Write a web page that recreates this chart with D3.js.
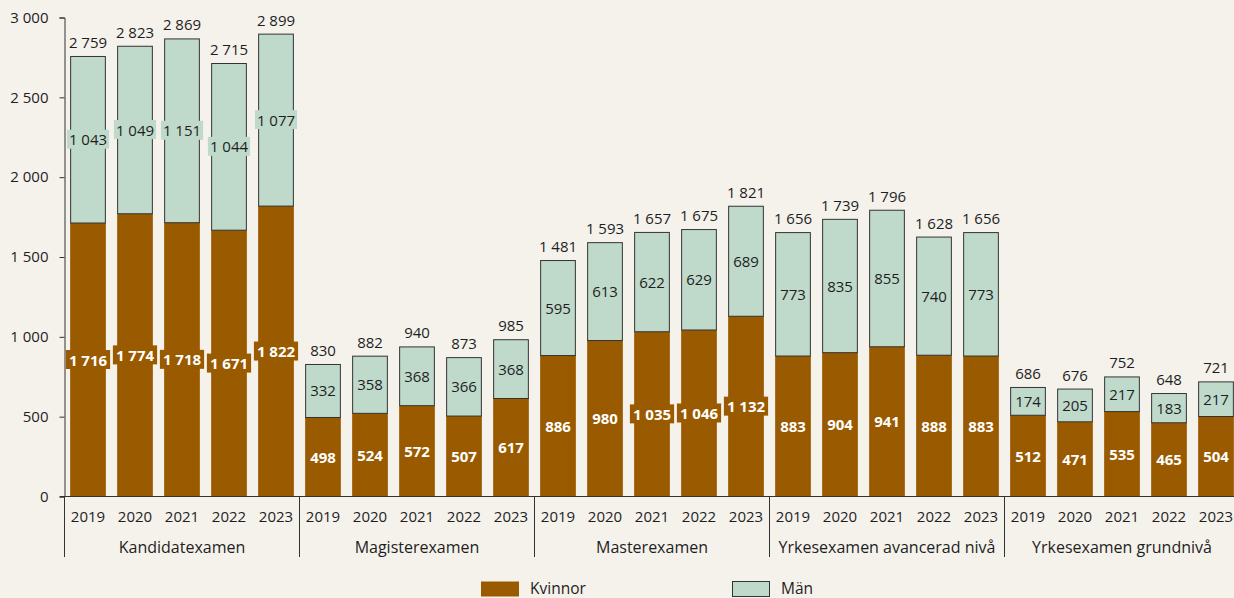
<!DOCTYPE html>
<html><head><meta charset="utf-8">
<script src="https://cdn.jsdelivr.net/npm/d3@7"></script>
<style>
html,body{margin:0;padding:0;background:#f5f2ec;}
svg{display:block;font-family:"Open Sans",sans-serif;}
</style></head>
<body><svg id="c" width="1234" height="598"></svg>
<script>
const categories = ["Kandidatexamen","Magisterexamen","Masterexamen","Yrkesexamen avancerad nivå","Yrkesexamen grundnivå"];
const years = ["2019","2020","2021","2022","2023"];
const kvinnor = [
  [1716,1774,1718,1671,1822],
  [498,524,572,507,617],
  [886,980,1035,1046,1132],
  [883,904,941,888,883],
  [512,471,535,465,504]
];
const man = [
  [1043,1049,1151,1044,1077],
  [332,358,368,366,368],
  [595,613,622,629,689],
  [773,835,855,740,773],
  [174,205,217,183,217]
];
const yTicks = [0,500,1000,1500,2000,2500,3000];
const seriesNames = ["Kvinnor","Män"];

const COL_K = "#995a00", COL_M = "#bfdacb", STROKE = "#333", TXT = "#1e1e1e";
const svg = d3.select("#c");
const locale = d3.formatLocale({decimal:",", thousands:" ", grouping:[3], currency:["","kr"]});
const fmt = locale.format(",d");

const x0 = 64.5, plotRight = 1239.5;
const y = d3.scaleLinear().domain([0,3000]).range([496.5,17.5]);
const keys = [];
categories.forEach((c,ci)=>years.forEach((yr,yi)=>keys.push(ci+"|"+yi)));
const x = d3.scaleBand().domain(keys).range([x0,plotRight]).paddingInner(0.24).paddingOuter(0.12);
const catX = d3.scaleBand().domain(categories).range([x0,plotRight]);

// y axis
const yAxis = svg.append("g").attr("transform",`translate(${x0},0)`)
  .call(d3.axisLeft(y).tickValues(yTicks).tickSize(5).tickPadding(11).tickFormat(fmt));
yAxis.select(".domain").attr("stroke",STROKE);
yAxis.selectAll(".tick line").attr("stroke",STROKE);
yAxis.selectAll("text").attr("fill",TXT).style("font-size","15px").style("font-family","Open Sans");

const data = [];
categories.forEach((c,ci)=>years.forEach((yr,yi)=>{
  data.push({key:ci+"|"+yi, ci, yi, k:kvinnor[ci][yi], m:man[ci][yi]});
}));

const g = svg.append("g");
g.selectAll("rect.k").data(data).join("rect").attr("class","k")
  .attr("x",d=>x(d.key)).attr("width",x.bandwidth())
  .attr("y",d=>y(d.k)).attr("height",d=>y(0)-y(d.k))
  .attr("fill",COL_K);
g.selectAll("rect.m").data(data).join("rect").attr("class","m")
  .attr("x",d=>x(d.key)+0.5).attr("width",x.bandwidth()-1)
  .attr("y",d=>y(d.k+d.m)+0.5).attr("height",d=>y(d.k)-y(d.k+d.m))
  .attr("fill",COL_M).attr("stroke",STROKE).attr("stroke-width",1);

svg.append("line").attr("x1",60).attr("x2",1234).attr("y1",y(0)).attr("y2",y(0))
  .attr("stroke",STROKE).attr("stroke-width",1);

function boxLabel(sel, cx, cy, text, fill, color, weight, pad){
  const gg = sel.append("g");
  const t = gg.append("text").attr("x",cx).attr("y",cy).attr("text-anchor","middle")
    .attr("dominant-baseline","central").attr("fill",color)
    .style("font-size","15px").style("font-weight",weight).text(text);
  const w = t.node().getComputedTextLength();
  gg.insert("rect","text").attr("x",cx-w/2-pad).attr("width",w+2*pad)
    .attr("y",cy-9.5).attr("height",19).attr("fill",fill);
}
const lab = svg.append("g");
data.forEach(d=>{
  const cx = x(d.key)+x.bandwidth()/2;
  boxLabel(lab, cx, (y(0)+y(d.k))/2, fmt(d.k), COL_K, "#fff", 700, 3);
  boxLabel(lab, cx, (y(d.k)+y(d.k+d.m))/2, fmt(d.m), COL_M, TXT, 400, 2);
  lab.append("text").attr("x",cx).attr("y",y(d.k+d.m)-8).attr("text-anchor","middle")
    .attr("fill",TXT).style("font-size","15px").text(fmt(d.k+d.m));
});

svg.append("g").selectAll("text").data(data).join("text")
  .attr("x",d=>x(d.key)+x.bandwidth()/2).attr("y",522).attr("text-anchor","middle")
  .attr("fill",TXT).style("font-size","15px").text(d=>years[d.yi]);
svg.append("g").selectAll("text").data(categories).join("text")
  .attr("x",d=>catX(d)+catX.bandwidth()/2).attr("y",553).attr("text-anchor","middle")
  .attr("fill",TXT).style("font-size","16px").text(d=>d);
svg.append("g").selectAll("line").data(categories).join("line")
  .attr("x1",d=>catX(d)).attr("x2",d=>catX(d))
  .attr("y1",y(0)).attr("y2",557).attr("stroke",STROKE).attr("stroke-width",1);

const leg = svg.append("g");
const legX = [481,732];
seriesNames.forEach((s,i)=>{
  leg.append("rect").attr("x",legX[i]+(i?0.5:0)).attr("y",581.5).attr("width",i?37:38).attr("height",15)
    .attr("fill",i?COL_M:COL_K).attr("stroke",i?STROKE:"none");
  leg.append("text").attr("x",legX[i]+49).attr("y",594).attr("fill",TXT)
    .style("font-size","15.5px").text(s);
});
</script></body></html>
